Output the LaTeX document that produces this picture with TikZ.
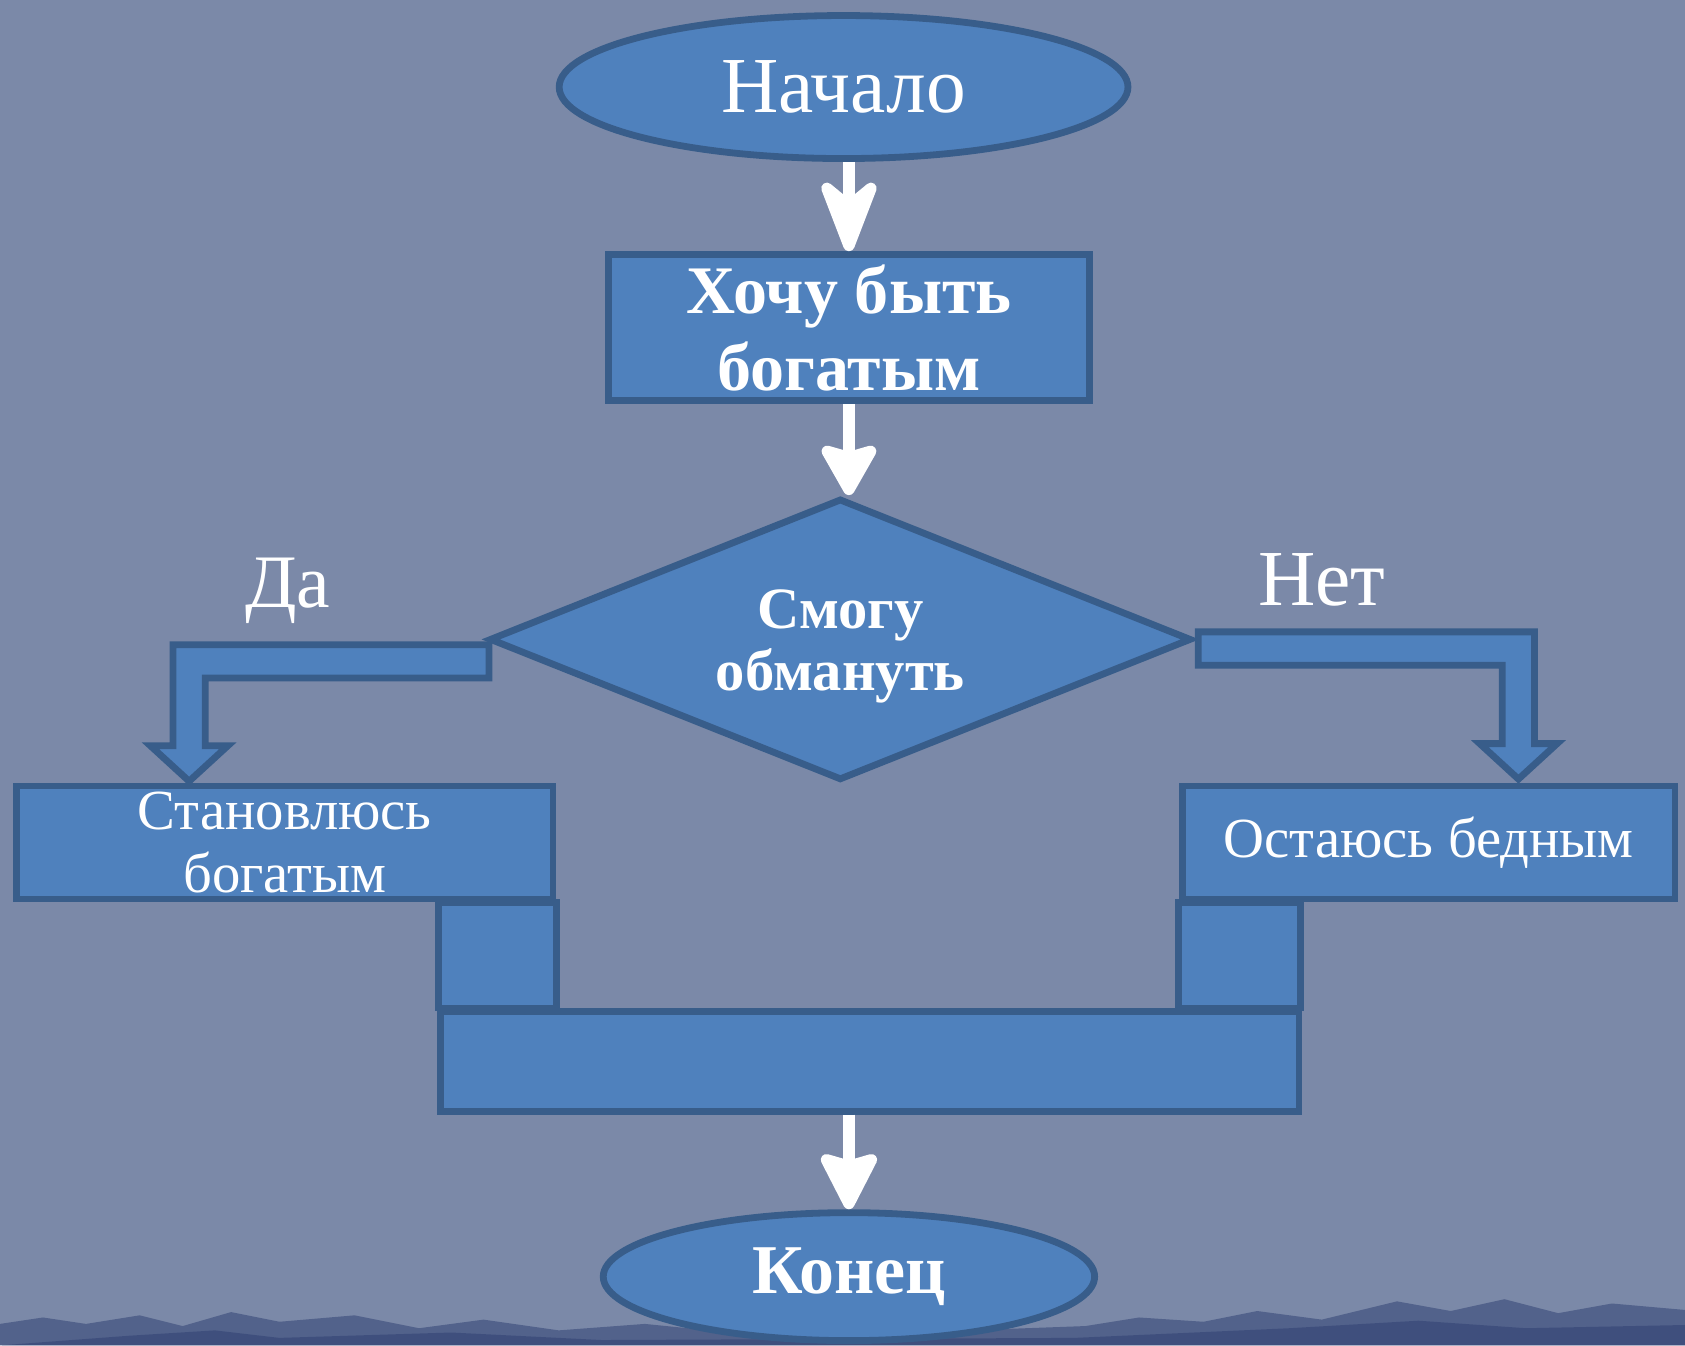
\documentclass[tikz,border=0pt]{standalone}
\usepackage{fontspec}
\setmainfont{Liberation Serif}
\usetikzlibrary{shapes.geometric,arrows.meta}

\definecolor{slate}{RGB}{123,137,168}
\definecolor{dusk}{RGB}{56,72,120}
\definecolor{boxfill}{RGB}{79,129,189}
\definecolor{boxline}{RGB}{56,93,138}

\tikzset{
	block/.style={draw=boxline, fill=boxfill, line width=1.8pt},
	startstop/.style={block, ellipse, text=white, inner sep=0pt},
	process/.style={block, rectangle, text=white, align=center, inner sep=0pt},
	decision/.style={block, diamond, shape aspect=2.45, text=white, align=center, inner sep=0pt},
	answer/.style={text=white, inner sep=0pt},
	flow/.style={white, line width=3pt},
}

\newcommand{\bentarrow}[5][1] % [sens]{x debut}{y haut}{x fleche}{y pointe}, sens -1 = gauche
{
	\draw [block] (#2,#3) -- ({#4+#1*15},#3) -- ({#4+#1*15},{#5-33}) -- ({#4+#1*36},{#5-33}) -- (#4,#5)
		-- ({#4-#1*36},{#5-33}) -- ({#4-#1*15},{#5-33}) -- ({#4-#1*15},{#3+31}) -- (#2,{#3+31}) -- cycle;
}

\begin{document}
\begin{tikzpicture}[x=0.01cm, y=-0.01cm]

	\useasboundingbox (0,0) rectangle (1568,1252);
	\fill [slate] (0,0) rectangle (1568,1252);
	\fill [dusk, opacity=0.6] (0,1252) -- (0,1232) -- (40,1226) -- (80,1232) -- (130,1224) -- (170,1234) -- (215,1221)
		-- (260,1230) -- (330,1224) -- (390,1236) -- (450,1228) -- (520,1238) -- (600,1232) -- (680,1240) -- (900,1238)
		-- (1010,1234) -- (1060,1226) -- (1120,1230) -- (1170,1220) -- (1230,1228) -- (1300,1211) -- (1350,1220)
		-- (1400,1209) -- (1450,1222) -- (1500,1213) -- (1568,1219) -- (1568,1252) -- cycle;
	\fill [dusk, opacity=0.7] (0,1252) -- (120,1243) -- (200,1238) -- (260,1245) -- (420,1240) -- (560,1247) -- (1000,1245)
		-- (1200,1236) -- (1320,1229) -- (1420,1236) -- (1568,1233) -- (1568,1252) -- cycle;

	% raccords vers le bas
	\draw [block] (408,840) rectangle (518,938);
	\draw [block] (1097,840) rectangle (1210,938);
	\node [process, minimum width=7.98cm, minimum height=0.93cm] (merge) at (809.5,987.5) {};

	% fleches larges
	\bentarrow[-1]{455}{600}{176}{727}
	\bentarrow[1]{1115}{588}{1413}{725}

	\node [startstop, minimum width=5.29cm, minimum height=1.33cm, font=\fontsize{21}{25}\selectfont] (start) at (785,81) {Начало};
	\node [process, minimum width=4.47cm, minimum height=1.36cm, font=\bfseries\fontsize{18}{20.5}\selectfont] (want) at (790,305) {Хочу быть\\богатым};
	\node [decision, minimum width=6.53cm, minimum height=2.62cm, font=\bfseries\fontsize{15.5}{16.5}\selectfont] (cheat) at (782,595) {\rule{0pt}{14pt}Смогу\\обмануть};
	\node [process, minimum width=4.99cm, minimum height=1.05cm, font=\fontsize{15}{16.5}\selectfont] (rich) at (265,784) {Становлюсь\\богатым};
	\node [process, minimum width=4.58cm, minimum height=1.05cm, font=\fontsize{15}{18}\selectfont] (poor) at (1329.5,784) {Остаюсь бедным};
	\node [startstop, minimum width=4.57cm, minimum height=1.19cm, font=\bfseries\fontsize{18.5}{22}\selectfont] (finish) at (790,1188) {Конец};

	\node [answer, font=\fontsize{20}{24}\selectfont] (yes) at (268,550) {Да};
	\node [answer, font=\fontsize{21}{25}\selectfont] (no) at (1230,540) {Нет};

	\draw [flow, -{Stealth[round, length=8.4mm, width=6.4mm, inset=2.6mm]}] (start.south -| want.north) -- (want.north);
	\draw [flow, -{Stealth[round, length=5.4mm, width=6.0mm, inset=0.8mm]}] (want.south) -- (want.south |- cheat.north);
	\draw [flow, -{Stealth[round, length=6.0mm, width=6.0mm, inset=0.8mm]}] (merge.south -| finish.north) -- (finish.north);

\end{tikzpicture}
\end{document}
